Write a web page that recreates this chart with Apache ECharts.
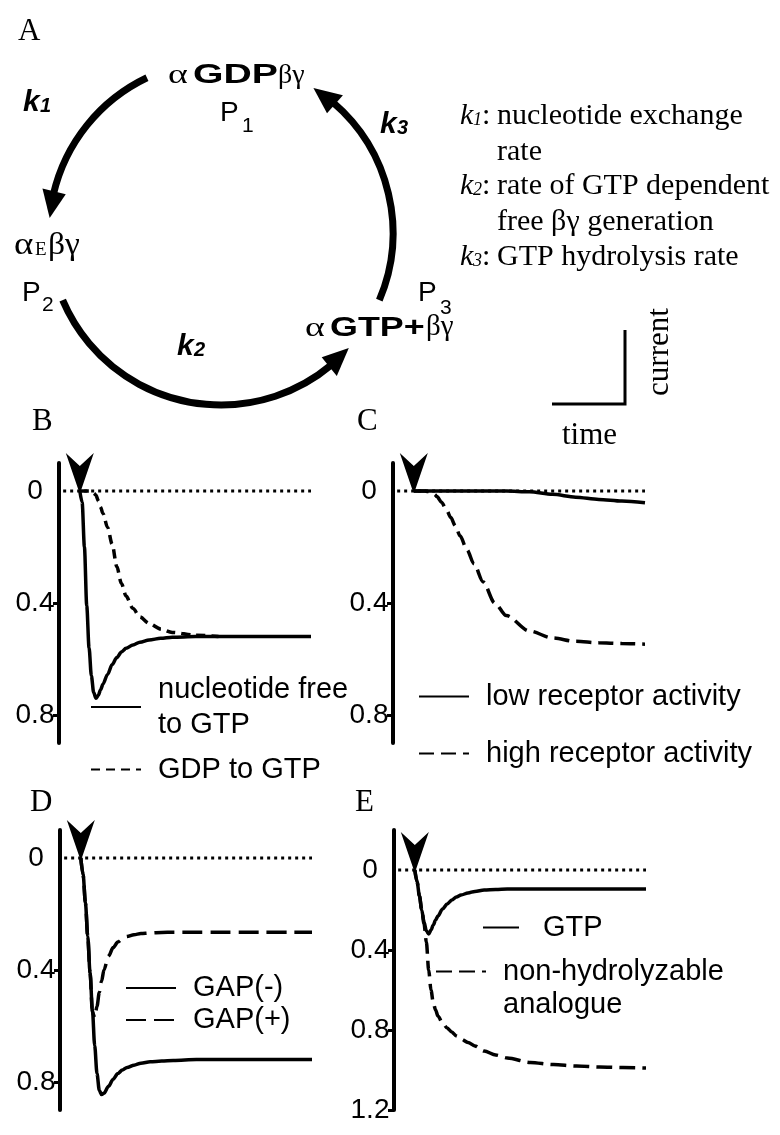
<!DOCTYPE html>
<html>
<head>
<meta charset="utf-8">
<title>G protein cycle model</title>
<script src="https://cdn.jsdelivr.net/npm/echarts@6.0.0/dist/echarts.min.js"></script>
<style>
  html, body { margin: 0; padding: 0; background: #fff; }
  #main { width: 780px; height: 1135px; }
</style>
</head>
<body>
<div id="main"></div>
<script>
// time axis shared by all simulated traces (arbitrary units, 0 = arrow / agonist)
var time      = [0, 1, 2, 3, 4, 5, 6, 7, 8, 9, 10, 12, 14, 16, 18, 20, 23, 26, 30, 35, 40, 50, 60, 70, 80, 90, 100];
var zeroTime  = [-7.2, 100];

// B : nucleotide free vs GDP bound start
var nucFreeB  = [0, 0.04, 0.2, 0.41, 0.56, 0.66, 0.72, 0.74, 0.73, 0.71, 0.69, 0.655, 0.62, 0.595, 0.575, 0.562, 0.55, 0.54, 0.532, 0.526, 0.522, 0.52, 0.52, 0.52, 0.52, 0.52, 0.52];
var gdpB      = [0, 0, 0, 0, 0, 0.003, 0.008, 0.015, 0.035, 0.058, 0.08, 0.13, 0.19, 0.27, 0.33, 0.375, 0.42, 0.45, 0.473, 0.493, 0.505, 0.515, 0.52, null, null, null, null];
// C : receptor activity
var lowC      = [0, 0, 0, 0, 0, 0, 0, 0, 0, 0, 0, 0, 0, 0, 0, 0, 0, 0, 0, 0, 0, 0.003, 0.012, 0.022, 0.03, 0.036, 0.042];
var highC     = [0, 0, 0, 0, 0, 0, 0.002, 0.004, 0.007, 0.012, 0.02, 0.04, 0.065, 0.095, 0.125, 0.16, 0.21, 0.26, 0.325, 0.4, 0.445, 0.5, 0.525, 0.537, 0.542, 0.545, 0.547];
// D : GAP
var gapMinusD = [0, 0.06, 0.16, 0.28, 0.41, 0.54, 0.67, 0.77, 0.83, 0.845, 0.84, 0.815, 0.79, 0.77, 0.757, 0.748, 0.74, 0.733, 0.728, 0.725, 0.723, 0.72, 0.72, 0.72, 0.72, 0.72, 0.72];
var gapPlusD  = [0, 0.06, 0.16, 0.28, 0.41, 0.55, 0.57, 0.53, 0.48, 0.44, 0.4, 0.35, 0.32, 0.3, 0.29, 0.28, 0.274, 0.27, 0.268, 0.266, 0.265, 0.265, 0.265, 0.265, 0.265, 0.265, 0.265];
// E : GTP vs non-hydrolyzable analogue
var gtpE      = [0, 0.06, 0.13, 0.2, 0.26, 0.305, 0.32, 0.3, 0.275, 0.25, 0.23, 0.195, 0.17, 0.15, 0.135, 0.125, 0.115, 0.107, 0.1, 0.097, 0.095, 0.095, 0.095, 0.095, 0.095, 0.095, 0.095];
var analogueE = [0, 0.06, 0.13, 0.2, 0.27, 0.36, 0.5, 0.6, 0.665, 0.7, 0.73, 0.765, 0.79, 0.81, 0.83, 0.845, 0.862, 0.88, 0.905, 0.925, 0.94, 0.962, 0.973, 0.98, 0.985, 0.988, 0.99];

// y axis labels / ticks
var yLabels   = [0, 0.4, 0.8];
var yTicks    = [0.4, 0.8];
var yLabelsE  = [0, 0.4, 0.8, 1.2];
var yTicksE   = [0.4, 0.8, 1.2];

var SANS = '"Liberation Sans", Arial, sans-serif';
var SERIF = '"Liberation Serif", "Times New Roman", serif';

drawFigure();

function drawFigure(){
	var myChart = echarts.init(document.getElementById('main'));

	var panels = [
		{left: 59,  top: 463, min: -0.1, max: 0.9, labels: yLabels,  ticks: yTicks},
		{left: 393, top: 463, min: -0.1, max: 0.9, labels: yLabels,  ticks: yTicks},
		{left: 60,  top: 830, min: -0.1, max: 0.9, labels: yLabels,  ticks: yTicks},
		{left: 394, top: 830, min: -0.2, max: 1.2, labels: yLabelsE, ticks: yTicksE}
	];

	var grids = [], xAxes = [], yAxes = [];
	for (var i = 0; i < panels.length; i++) {
		var p = panels[i];
		grids.push({left: p.left, top: p.top, width: 252, height: 280});
		xAxes.push({gridIndex: i, type: 'value', min: -9, max: 100, show: false});
		yAxes.push({
			gridIndex: i, type: 'value', inverse: true, min: p.min, max: p.max,
			splitLine: {show: false},
			axisLine: {show: true, onZero: false, lineStyle: {color: '#000', width: 4}},
			axisTick: {show: true, length: 6, customValues: p.ticks, lineStyle: {color: '#000', width: 3}},
			axisLabel: {
				customValues: p.labels, align: 'center', margin: 24,
				color: '#000', fontSize: 28, fontFamily: SANS,
				formatter: function (v) { return String(v); }
			}
		});
	}

	var series = [];
	for (var k = 0; k < 4; k++) {
		series.push(zeroLine(k));
	}
	series.push(trace('nucleotide free\nto GTP', 0, nucFreeB, 'solid'));
	series.push(trace('GDP to GTP', 0, gdpB, [9, 6]));
	series.push(trace('low receptor activity', 1, lowC, 'solid'));
	series.push(trace('high receptor activity', 1, highC, [15, 7]));
	series.push(trace('GAP(-)', 2, gapMinusD, 'solid'));
	series.push(trace('GAP(+)', 2, gapPlusD, [20, 8]));
	series.push(trace('GTP', 3, gtpE, 'solid'));
	series.push(trace('non-hydrolyzable\nanalogue', 3, analogueE, [16, 7]));

	// the analogue key has its sample beside the first line, so pad one blank line above
	var analogueKey = legendBox(435, 922, ['non-hydrolyzable\nanalogue'], 50, 12, 33, 0);
	analogueKey.formatter = function (name) { return ' \n' + name; };

	option = {
		animation: false,
		backgroundColor: '#fff',
		grid: grids,
		xAxis: xAxes,
		yAxis: yAxes,
		legend: [
			legendBox(90, 672, ['nucleotide free\nto GTP', 'GDP to GTP'], 50, 12, 35, 10),
			legendBox(418, 679, ['low receptor activity', 'high receptor activity'], 50, 12, 35, 22),
			legendBox(125, 972, ['GAP(-)', 'GAP(+)'], 50, 12, 32, 0),
			legendBox(482, 910, ['GTP'], 36, 19, 35, 0),
			analogueKey
		],
		series: series,
		graphic: diagram()
	};
	myChart.setOption(option);
}

function zeroLine(idx){
	return {
		name: 'zero' + idx,
		type: 'line', xAxisIndex: idx, yAxisIndex: idx,
		symbol: 'none', silent: true, z: 1,
		lineStyle: {color: '#000', width: 3, type: [3, 4]},
		data: [[zeroTime[0], 0], [zeroTime[1], 0]],
		markPoint: {
			silent: true,
			symbol: 'path://M0,0 L14,13 L28,0 L15,38 L13,38 Z',
			symbolSize: [28, 38],
			symbolOffset: [0, '-50%'],
			itemStyle: {color: '#000'},
			label: {show: false},
			data: [{coord: [0, 0]}]
		}
	};
}

function trace(name, idx, values, dash){
	var pts = [];
	for (var i = 0; i < time.length; i++) {
		if (values[i] !== null) pts.push([time[i], values[i]]);
	}
	return {
		name: name,
		type: 'line', xAxisIndex: idx, yAxisIndex: idx,
		symbol: 'none', showSymbol: false, silent: true,
		smooth: 0.3, smoothMonotone: 'x', z: 3,
		lineStyle: {color: '#000', width: 3.5, type: dash},
		data: pts
	};
}

function legendBox(left, top, names, iconW, gap, lineH, itemGap){
	return {
		left: left, top: top, orient: 'vertical', padding: 0,
		itemWidth: iconW, itemHeight: 14, itemGap: itemGap,
		selectedMode: false,
		itemStyle: {opacity: 0},
		textStyle: {
			color: '#000', fontSize: 29, fontFamily: SANS, lineHeight: lineH,
			padding: [0, 0, 0, gap]
		},
		data: names
	};
}

// text helper: x, baseline
function txt(x, base, str, size, family, weight, italic, extra){
	var el = {
		type: 'text', x: x, y: base - 0.35 * size, silent: true,
		style: {
			text: str, fill: '#000', align: 'left', verticalAlign: 'middle',
			font: (italic ? 'italic ' : '') + (weight || 'normal') + ' ' + size + 'px ' + family
		}
	};
	if (extra) {
		for (var key in extra) el[key] = extra[key];
	}
	return el;
}

function diagram(){
	var cx = 221, cy = 233, r = 172;
	var rad = Math.PI / 180;
	var g = [];

	function arc(a0, a1){
		g.push({
			type: 'arc', silent: true,
			shape: {cx: cx, cy: cy, r: r, startAngle: a0 * rad, endAngle: a1 * rad, clockwise: true},
			style: {stroke: '#000', lineWidth: 7, fill: null}
		});
	}
	function head(tip, base, half){
		var t = tip * rad, b = base * rad;
		g.push({
			type: 'polygon', silent: true,
			shape: {points: [
				[cx + r * Math.cos(t), cy + r * Math.sin(t)],
				[cx + (r + half) * Math.cos(b), cy + (r + half) * Math.sin(b)],
				[cx + (r - half) * Math.cos(b), cy + (r - half) * Math.sin(b)]
			]},
			style: {fill: '#000'}
		});
	}

	// k1 : GDP -> empty
	arc(193, 244.5);
	head(185, 194, 12);
	// k2 : empty -> GTP
	arc(50, 157);
	head(42, 51, 12);
	// k3 : hydrolysis
	arc(-49.5, 23);
	head(-57.5, -48.5, 12);

	// panel letters
	g.push(txt(18, 43, 'A', 31, SERIF));
	g.push(txt(32, 433, 'B', 31, SERIF));
	g.push(txt(357, 433, 'C', 31, SERIF));
	g.push(txt(30, 814, 'D', 31, SERIF));
	g.push(txt(355, 814, 'E', 31, SERIF));

	// states
	g.push(txt(168, 85, 'α', 28, SERIF, null, false, {scaleX: 1.35}));
	g.push(txt(193, 85, 'GDP', 27, SANS, 'bold', false, {scaleX: 1.45}));
	g.push(txt(278, 85, 'βγ', 28, SERIF));
	g.push(txt(220, 123, 'P', 28, SANS));
	g.push(txt(242, 134, '1', 21, SANS));

	g.push(txt(14, 257, 'α', 32, SERIF, null, false, {scaleX: 1.15}));
	g.push(txt(35, 257, 'E', 19, SERIF));
	g.push(txt(48, 257, 'βγ', 32, SERIF, null, false, {scaleX: 1.05}));
	g.push(txt(22, 303, 'P', 28, SANS));
	g.push(txt(42, 313, '2', 21, SANS));

	g.push(txt(305, 338, 'α', 28, SERIF, null, false, {scaleX: 1.35}));
	g.push(txt(330, 338, 'GTP+', 28, SANS, 'bold', false, {scaleX: 1.28}));
	g.push(txt(426, 338, 'βγ', 29, SERIF));
	g.push(txt(418, 303, 'P', 28, SANS));
	g.push(txt(440, 316, '3', 21, SANS));

	// rate constants on the cycle
	g.push(txt(23, 113, 'k', 30, SANS, 'bold', true));
	g.push(txt(40, 113, '1', 20, SANS, 'bold', true));
	g.push(txt(177, 357, 'k', 30, SANS, 'bold', true));
	g.push(txt(194, 357, '2', 20, SANS, 'bold', true));
	g.push(txt(380, 135, 'k', 30, SANS, 'bold', true));
	g.push(txt(397, 135, '3', 20, SANS, 'bold', true));

	// key
	var rows = [
		{k: '1', base: 127, text: 'nucleotide exchange'},
		{k: null, base: 163, text: 'rate'},
		{k: '2', base: 197, text: 'rate of GTP dependent'},
		{k: null, base: 233, text: 'free βγ generation'},
		{k: '3', base: 268, text: 'GTP hydrolysis rate'}
	];
	for (var i = 0; i < rows.length; i++) {
		var row = rows[i];
		if (row.k) {
			g.push(txt(460, row.base, 'k', 30, SERIF, null, true));
			g.push(txt(473, row.base, row.k, 18, SERIF, null, true));
			g.push(txt(482, row.base, ':', 30, SERIF));
		}
		g.push(txt(497, row.base, row.text, 30, SERIF));
	}

	// scale bar
	g.push({
		type: 'polyline', silent: true,
		shape: {points: [[552, 404], [625, 404], [625, 330]]},
		style: {stroke: '#000', lineWidth: 3, fill: null}
	});
	g.push(txt(562, 447, 'time', 31, SERIF));
	g.push({
		type: 'text', x: 660, y: 352, rotation: Math.PI / 2, silent: true,
		style: {text: 'current', fill: '#000', align: 'center', verticalAlign: 'middle', font: '31px ' + SERIF}
	});
	return g;
}
</script>
</body>
</html>
